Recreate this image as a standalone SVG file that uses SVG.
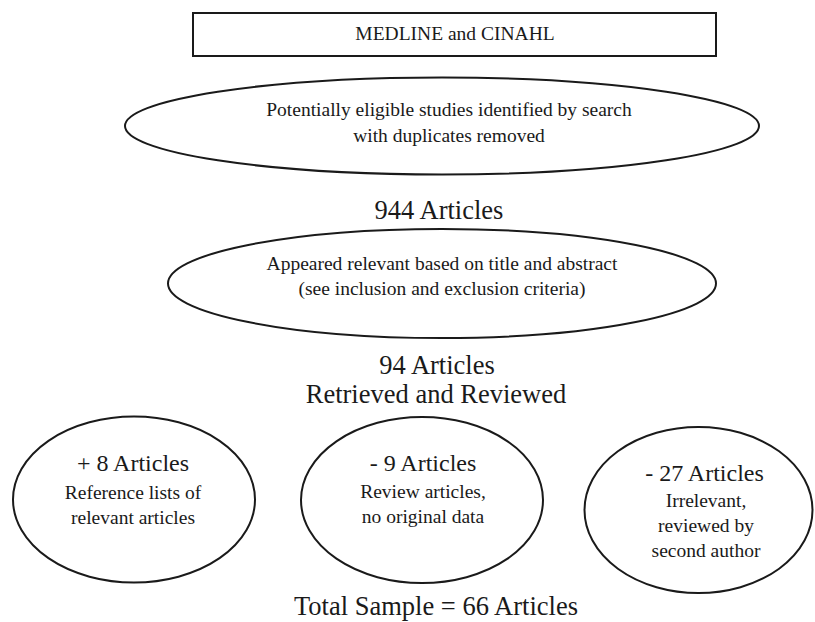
<svg xmlns="http://www.w3.org/2000/svg" width="815" height="622" viewBox="0 0 815 622">
<style>
.shape{fill:#fff;stroke:#1a1a1a;stroke-width:2}
text{font-family:"Liberation Serif","Times New Roman",serif;fill:#1a1a1a;text-anchor:middle}
.s{font-size:19.5px}
.l{font-size:26.5px}
.h{font-size:24px}
</style>
<rect width="815" height="622" fill="#fff"/>
<g id="connectors"/>
<g id="source">
<rect class="shape" x="193" y="13" width="523" height="43"/>
<text class="s" x="455" y="40">MEDLINE and CINAHL</text>
</g>
<g id="identified">
<ellipse class="shape" cx="442" cy="126" rx="317" ry="48.5"/>
<text class="s" x="449" y="116">Potentially eligible studies identified by search</text>
<text class="s" x="449" y="142">with duplicates removed</text>
</g>
<text id="count944" class="l" x="439" y="219">944 Articles</text>
<g id="screened">
<ellipse class="shape" cx="442" cy="283.5" rx="274" ry="54.5"/>
<text class="s" x="442" y="270">Appeared relevant based on title and abstract</text>
<text class="s" x="442" y="295">(see inclusion and exclusion criteria)</text>
</g>
<g id="retrieved">
<text class="l" x="437" y="374">94 Articles</text>
<text class="l" x="436" y="403">Retrieved and Reviewed</text>
</g>
<g id="added">
<ellipse class="shape" cx="134" cy="499.5" rx="121" ry="83"/>
<text class="h" x="133" y="471">+ 8 Articles</text>
<text class="s" x="133" y="498.5">Reference lists of</text>
<text class="s" x="133" y="524">relevant articles</text>
</g>
<g id="reviews">
<ellipse class="shape" cx="422" cy="500" rx="121" ry="83"/>
<text class="h" x="423" y="471">- 9 Articles</text>
<text class="s" x="423" y="498">Review articles,</text>
<text class="s" x="423" y="523">no original data</text>
</g>
<g id="irrelevant">
<ellipse class="shape" cx="698.5" cy="510" rx="114" ry="83"/>
<text class="h" x="704.5" y="481">- 27 Articles</text>
<text class="s" x="706" y="507">Irrelevant,</text>
<text class="s" x="706" y="532">reviewed by</text>
<text class="s" x="706" y="557">second author</text>
</g>
<text id="total" class="l" x="436" y="615">Total Sample = 66 Articles</text>
</svg>
